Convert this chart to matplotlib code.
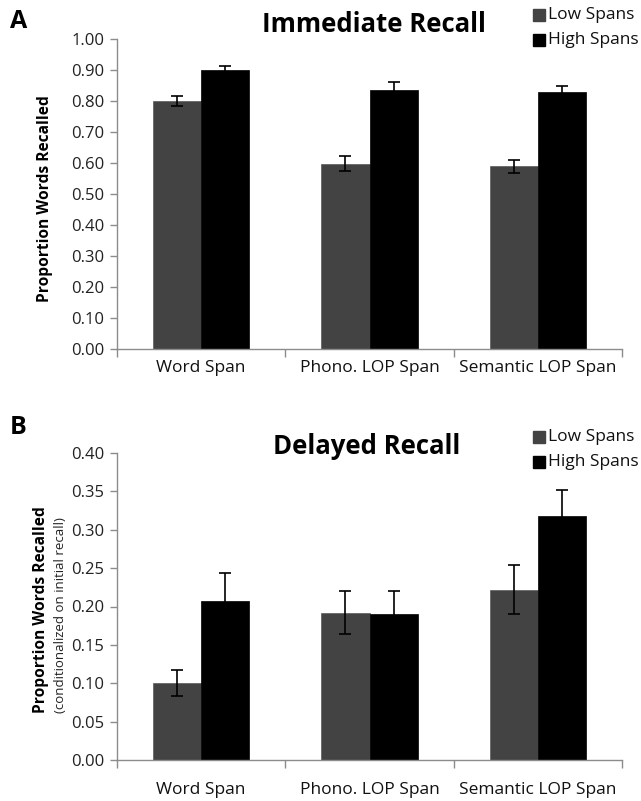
import matplotlib
matplotlib.use("Agg")
import matplotlib.pyplot as plt
import numpy as np
from matplotlib.patches import Rectangle

categories = ["Word Span", "Phono. LOP Span", "Semantic LOP Span"]
series = ["Low Spans", "High Spans"]

imm_low = [0.800, 0.597, 0.589]
imm_low_err = [0.016, 0.024, 0.021]
imm_high = [0.899, 0.835, 0.828]
imm_high_err = [0.013, 0.027, 0.021]

del_low = [0.100, 0.192, 0.222]
del_low_err = [0.017, 0.028, 0.032]
del_high = [0.207, 0.190, 0.318]
del_high_err = [0.037, 0.030, 0.034]

imm_ticks = [0.0, 0.1, 0.2, 0.3, 0.4, 0.5, 0.6, 0.7, 0.8, 0.9, 1.0]
del_ticks = [0.0, 0.05, 0.10, 0.15, 0.20, 0.25, 0.30, 0.35, 0.40]

plt.rcParams['font.family'] = ['Open Sans', 'DejaVu Sans']

LOW_C = "#434343"
HIGH_C = "#000000"
AX_C = "#8c8c8c"

fig = plt.figure(figsize=(6.41, 8.01), dpi=100)
W, H = 641, 801

def ax_rect(x0, y0, x1, y1):
    return [x0 / W, 1 - y1 / H, (x1 - x0) / W, (y1 - y0) / H]

def draw_panel(ax, low, lowe, high, highe, ticks, ymax, fmt, xpad):
    x = np.arange(len(categories))
    bw = 1 / 3.5
    ax.bar(x - bw / 2, low, bw, color=LOW_C, edgecolor="#5a5a5a", linewidth=0.5, label=series[0], zorder=2)
    ax.bar(x + bw / 2, high, bw, color=HIGH_C, edgecolor="#000000", linewidth=0.5, label=series[1], zorder=2)
    ax.errorbar(x - bw / 2, low, yerr=lowe, fmt="none", ecolor="black", elinewidth=1.2, capsize=4, capthick=1.2, zorder=3)
    ax.errorbar(x + bw / 2, high, yerr=highe, fmt="none", ecolor="black", elinewidth=1.2, capsize=4, capthick=1.2, zorder=3)
    ax.set_xlim(-0.5, len(categories) - 0.5)
    ax.set_ylim(0, ymax)
    ax.set_yticks(ticks)
    ax.set_yticklabels([fmt.format(t) for t in ticks], fontsize=12, color="#222222")
    ax.set_xticks(np.arange(-0.5, len(categories)), minor=False)
    ax.set_xticklabels([])
    ax.set_xticks(x, minor=True)
    ax.set_xticklabels(categories, minor=True, fontsize=12.5, color="#111111")
    ax.tick_params(axis="x", which="major", length=6, color=AX_C, width=1)
    ax.tick_params(axis="x", which="minor", length=0, pad=xpad)
    ax.tick_params(axis="y", length=5, color=AX_C, width=1, pad=4)
    for s in ["top", "right"]:
        ax.spines[s].set_visible(False)
    for s in ["left", "bottom"]:
        ax.spines[s].set_color(AX_C)
        ax.spines[s].set_linewidth(1)

axA = fig.add_axes(ax_rect(117, 39, 622, 349))
draw_panel(axA, imm_low, imm_low_err, imm_high, imm_high_err, imm_ticks, 1.0, "{:.2f}", 8)
axB = fig.add_axes(ax_rect(117, 453, 622, 760))
draw_panel(axB, del_low, del_low_err, del_high, del_high_err, del_ticks, 0.40, "{:.2f}", 16)

# Titles and panel letters
fig.text(374 / W, 1 - 25 / H, "Immediate Recall", fontsize=18.5, fontweight="bold", ha="center", va="center")
fig.text(367 / W, 1 - 447 / H, "Delayed Recall", fontsize=18.5, fontweight="bold", ha="center", va="center")
fig.text(10 / W, 1 - 22 / H, "A", fontsize=18, fontweight="bold", ha="left", va="center")
fig.text(10 / W, 1 - 428 / H, "B", fontsize=18, fontweight="bold", ha="left", va="center")

# Y labels
fig.text(45 / W, 1 - 199 / H, "Proportion Words Recalled", fontsize=11.2, fontweight="bold",
         rotation=90, ha="center", va="center")
fig.text(41 / W, 1 - 610 / H, "Proportion Words Recalled", fontsize=11.2, fontweight="bold",
         rotation=90, ha="center", va="center")
fig.text(61 / W, 1 - 615 / H, "(conditionalized on initial recall)", fontsize=9.5,
         rotation=90, ha="center", va="center", color="#222222")

# Legends
def legend_at(y_low, y_high):
    for yy, lab, c in [(y_low, series[0], LOW_C), (y_high, series[1], HIGH_C)]:
        fig.patches.append(Rectangle((533 / W, 1 - (yy + 6) / H), 12 / W, 12 / H,
                                     transform=fig.transFigure, color=c))
        fig.text(548 / W, 1 - yy / H, lab, fontsize=12.5, ha="left", va="center", color="#111111")

legend_at(15, 40)
legend_at(437, 462)

fig.savefig("out.png", dpi=100)
